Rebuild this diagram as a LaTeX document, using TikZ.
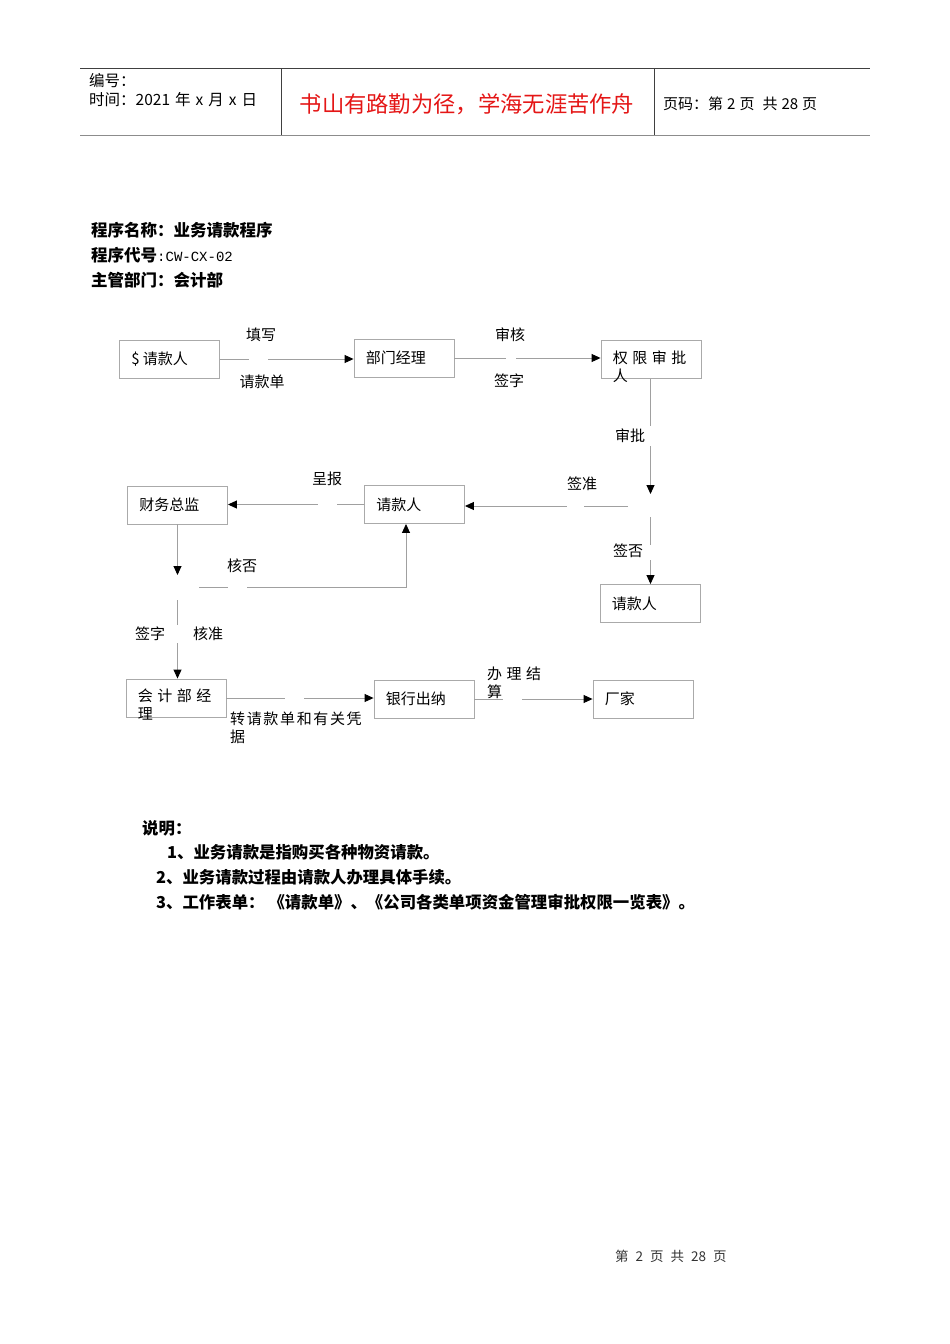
\documentclass[tikz,border=0pt]{standalone}
\usepackage{fontspec}
\setmainfont{Noto Sans CJK SC}
\newfontfamily\monofont{Liberation Mono}
\newfontfamily\widefont[LetterSpace=11]{Noto Sans CJK SC}
\usetikzlibrary{arrows.meta,calc}

\definecolor{lineg}{RGB}{160,160,160}
\definecolor{boxg}{RGB}{170,170,170}
\definecolor{headred}{RGB}{228,22,22}
\newcommand{\dia}{\fontsize{15}{18}\selectfont}
\newcommand{\wsp}{\hspace{4.5pt}}

\begin{document}
\begin{tikzpicture}[x=1pt, y=-1pt,
    box/.style = {draw=boxg, line width=0.9pt, minimum width=100pt, minimum height=38pt, inner sep=0pt},
    intext/.style = {anchor=west, inner sep=0pt, xshift=12pt, align=left, font=\dia},
    lbl/.style = {inner sep=0pt, font=\dia},
    txt/.style = {anchor=west, inner sep=0pt},
    conn/.style = {draw=lineg, line width=0.9pt},
    arr/.style = {conn, -{Triangle[length=9pt, width=8pt, black]}},
    gap/.style = {fill=white}]

    \useasboundingbox (0,0) rectangle (950,1344);

    % Glava strani
    \draw[line width=0.9pt, black!75] (80,68) -- (870,68);
    \draw[line width=1.8pt, black!45] (80,135.5) -- (870,135.5);
    \draw[line width=0.9pt, black!75] (281,68) -- (281,135) (654,68) -- (654,135);
    \node[txt, font=\fontsize{15.5}{18}\selectfont] (hnum) at (89,81) {编号：};
    \node[txt, font=\fontsize{15.5}{18}\selectfont] (hdate) at (89,100) {时间：2021\hspace{5pt}年\hspace{5pt}x\hspace{5pt}月\hspace{5pt}x\hspace{5pt}日};
    \node[inner sep=0pt, text=headred, font=\fontsize{22.3}{27}\selectfont] (motto) at (467,104) {书山有路勤为径，学海无涯苦作舟};
    \node[txt, font=\fontsize{15}{18}\selectfont] (hpage) at (663,104) {页码：第\hspace{4pt}2\hspace{4pt}页\hspace{8pt}共\hspace{4pt}28\hspace{4pt}页};

    % Podatki o programu
    \node[txt, font=\fontsize{16.5}{20}\bfseries] (pname) at (91,230) {程序名称：业务请款程序};
    \node[txt, font=\fontsize{16.5}{20}\bfseries] (pcode) at (91,255) {程序代号{\mdseries\monofont\fontsize{14}{16}\selectfont :CW-CX-02}};
    \node[txt, font=\fontsize{16.5}{20}\bfseries] (pdept) at (91,280) {主管部门：会计部};

    % Okvirji
    \node[box] (A) at (169.5,359) {};
    \node[intext] (At) at (A.west) {\$ 请款人};
    \node[box] (B) at (404,358) {};
    \node[intext] (Bt) at (B.west) {部门经理};
    \node[box] (C) at (651,359.5) {};
    \node[intext, yshift=-7pt] (Ct) at (C.west) {权\wsp 限\wsp 审\wsp 批\\人};
    \node[box] (D) at (177.5,505) {};
    \node[intext] (Dt) at (D.west) {财务总监};
    \node[box] (E) at (414.5,504.5) {};
    \node[intext] (Et) at (E.west) {请款人};
    \node[box] (F) at (650,603.5) {};
    \node[intext] (Ft) at (F.west) {请款人};
    \node[box] (G) at (176,698) {};
    \node[intext, yshift=-7pt] (Gt) at (G.west) {会\wsp 计\wsp 部\wsp 经\\理};
    \node[box] (H) at (424,699) {};
    \node[intext] (Ht) at (H.west) {银行出纳};
    \node[box] (I) at (643,699) {};
    \node[intext] (It) at (I.west) {厂家};

    % Razcepišča
    \coordinate (qa) at (650.5,494);
    \coordinate (qb) at (650.5,517);
    \coordinate (qc) at (628,506);
    \coordinate (da) at (177.5,575);
    \coordinate (db) at (177.5,600);
    \coordinate (dc) at (199,587);
    \coordinate (dd) at (406,587);

    % Povezave
    \draw[arr] (A.east) -- (A.east -| B.west);
    \draw[arr] (B.east) -- (B.east -| C.west);
    \draw[arr] (qa |- C.south) -- (qa);
    \draw[arr] (qb) -- (qb |- F.north);
    \draw[arr] (qc) -- (qc -| E.east);
    \draw[arr] (E.west) -- (E.west -| D.east);
    \draw[arr] (D.south) -- (da);
    \draw[arr] (db) -- (db |- G.north);
    \draw[arr] (dc) -- (dd) -- (dd |- E.south);
    \draw[arr] (G.east) -- (G.east -| H.west);
    \draw[arr] (H.east) -- (H.east -| I.west);

    % Prekinitve črt
    \fill[gap] (249,354) rectangle (268,364);
    \fill[gap] (506,353) rectangle (516,363);
    \fill[gap] (646,426) rectangle (655,446);
    \fill[gap] (646,545) rectangle (655,560);
    \fill[gap] (567,501) rectangle (584,511);
    \fill[gap] (318,500) rectangle (337,510);
    \fill[gap] (173,625) rectangle (182,643);
    \fill[gap] (228,582) rectangle (247,592);
    \fill[gap] (285,693) rectangle (304,703);
    \fill[gap] (503,694) rectangle (522,704);

    % Oznake povezav
    \node[lbl] (l1a) at (261,335) {填写};
    \node[lbl] (l1b) at (262,382) {请款单};
    \node[lbl] (l2a) at (510,335) {审核};
    \node[lbl] (l2b) at (509,381) {签字};
    \node[lbl] (l3) at (630,436) {审批};
    \node[lbl] (l4) at (582,484) {签准};
    \node[lbl] (l5) at (628,551) {签否};
    \node[lbl] (l6) at (327,479) {呈报};
    \node[lbl] (l7) at (242,566) {核否};
    \node[lbl] (l8a) at (150,634) {签字};
    \node[lbl] (l8b) at (208,634) {核准};
    \node[lbl, anchor=west, align=left] (l9) at (230,728) {\widefont 转请款单和有关凭\\据};
    \node[lbl, anchor=west, align=left] (l10) at (487,683) {办\wsp 理\wsp 结\\算};

    % Pojasnila
    \node[txt, font=\fontsize{16.4}{19}\bfseries] (note0) at (142,828) {说明：};
    \node[txt, font=\fontsize{16.4}{19}\bfseries] (note1) at (167,852) {1、业务请款是指购买各种物资请款。};
    \node[txt, font=\fontsize{16.4}{19}\bfseries] (note2) at (156,877) {2、业务请款过程由请款人办理具体手续。};
    \node[txt, font=\fontsize{16.4}{19}\bfseries] (note3) at (156,902) {3、工作表单：\hspace{4pt}《请款单》、《公司各类单项资金管理审批权限一览表》。};

    % Noga
    \node[txt, text=black!80, font=\fontsize{13.5}{16}\selectfont] (foot) at (615,1256) {第\hspace{7pt}2\hspace{7pt}页\hspace{7pt}共\hspace{7pt}28\hspace{7pt}页};

\end{tikzpicture}
\end{document}
